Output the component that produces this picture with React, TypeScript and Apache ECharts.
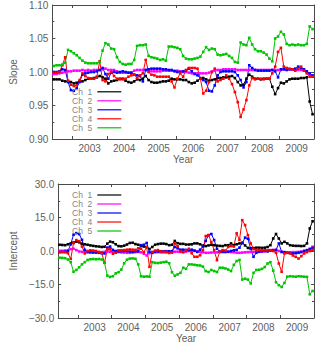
import React, { useEffect, useRef } from 'react';
import * as echarts from 'echarts';

// ---------- data ----------
const START_YEAR = 2002.458; // first monthly sample
const X_MIN = 2002.42;
const X_MAX = 2010.0;
const CHANNELS = ['Ch  1', 'Ch  2', 'Ch  3', 'Ch  4', 'Ch  5'];
const COLORS = ['#000000', '#ff00ff', '#0000ff', '#ff0000', '#00c400'];
const YEAR_TICKS = [2003, 2004, 2005, 2006, 2007, 2008, 2009];
const YEAR_LABEL_POS = [2003.5, 2004.5, 2005.5, 2006.5, 2007.5, 2008.5, 2009.5];

const slopeCh1 = [
  0.989, 0.989, 0.989, 0.987, 0.986, 0.986, 0.985, 0.983, 0.984, 0.986,
  0.986, 0.988, 0.990, 0.990, 0.991, 0.992, 0.994, 0.992, 0.990, 0.983,
  0.986, 0.987, 0.988, 0.990, 0.990, 0.987, 0.985, 0.984, 0.986, 0.989,
  0.988, 0.990, 0.994, 0.988, 0.985, 0.984, 0.984, 0.985, 0.986, 0.986,
  0.987, 0.990, 0.989, 0.989, 0.989, 0.988, 0.988, 0.985, 0.983, 0.984,
  0.987, 0.990, 0.991, 0.989, 0.987, 0.988, 0.989, 0.991, 0.991, 0.992,
  0.992, 0.993, 0.994, 0.991, 0.985, 0.980, 0.981, 0.990, 0.996, 0.993,
  0.990, 0.990, 0.989, 0.990, 0.990, 0.990, 0.978, 0.967, 0.976, 0.984,
  0.983, 0.986, 0.989, 0.990, 0.990, 0.990, 0.991, 0.991, 0.992, 0.956,
  0.937,
];
const slopeCh2 = [
  0.997, 0.997, 0.998, 0.999, 1.000, 1.001, 1.001, 1.002, 1.002, 1.002,
  1.003, 1.002, 1.003, 1.002, 1.003, 1.003, 1.003, 1.004, 1.005, 1.003,
  1.003, 1.003, 1.001, 0.999, 0.999, 0.999, 0.999, 0.999, 1.002, 1.003,
  1.003, 1.003, 1.003, 1.001, 1.001, 1.001, 1.001, 1.001, 1.002, 1.002,
  1.002, 1.002, 1.002, 1.002, 1.001, 1.000, 1.000, 0.999, 0.998, 0.998,
  0.998, 0.998, 0.998, 0.998, 0.999, 1.001, 1.002, 1.003, 1.003, 1.004,
  1.004, 1.004, 1.004, 1.004, 1.003, 1.003, 1.003, 1.003, 1.003, 1.003,
  1.003, 1.003, 1.003, 1.003, 1.003, 1.003, 1.003, 1.003, 1.003, 1.003,
  1.004, 1.004, 1.004, 1.004, 1.003, 1.003, 1.003, 1.002, 1.000, 0.996,
  0.993,
];
const slopeCh3 = [
  1.000, 1.000, 1.001, 1.004, 1.003, 0.985, 0.973, 0.972, 0.976, 0.985,
  0.996, 0.998, 0.999, 1.000, 1.000, 1.001, 1.003, 1.006, 0.997, 0.990,
  0.999, 1.000, 0.999, 1.000, 1.001, 1.000, 0.999, 0.999, 0.996, 0.995,
  0.994, 0.986, 1.003, 1.004, 1.005, 1.005, 1.005, 1.005, 1.004, 1.004,
  1.003, 1.003, 1.001, 1.000, 1.000, 1.001, 1.002, 1.005, 1.001, 0.997,
  0.995, 0.991, 0.988, 0.985, 0.972, 0.971, 0.980, 0.995, 1.000, 1.001,
  1.001, 1.001, 1.001, 1.000, 0.995, 0.988, 0.977, 0.985, 1.010, 1.006,
  1.003, 1.002, 1.002, 1.002, 1.002, 1.002, 1.003, 1.001, 0.992, 1.004,
  1.004, 1.003, 1.004, 1.004, 1.005, 1.008, 1.006, 1.004, 1.001, 0.998,
  0.995,
];
const slopeCh4 = [
  0.999, 0.999, 1.000, 1.010, 1.022, 0.987, 0.981, 0.979, 0.980, 0.988,
  0.998, 0.994, 0.991, 0.990, 0.990, 0.993, 1.016, 0.988, 0.986, 0.997,
  1.000, 0.994, 0.990, 0.989, 0.989, 0.990, 0.993, 0.995, 0.996, 0.991,
  0.995, 0.998, 1.018, 1.000, 0.996, 0.995, 0.993, 0.993, 0.993, 0.993,
  0.993, 0.986, 0.977, 0.990, 0.998, 0.993, 1.003, 1.006, 1.006, 1.006,
  1.005, 0.990, 0.968, 0.972, 0.985, 1.000, 1.005, 0.986, 0.988, 0.990,
  0.995, 0.990, 0.982, 0.970, 0.955, 0.933, 0.944, 0.958, 0.980, 0.991,
  0.989, 0.990, 0.990, 0.989, 0.990, 0.990, 0.998, 1.008, 1.030, 1.036,
  1.008, 1.006, 1.005, 1.004, 1.002, 1.005, 1.008, 1.002, 0.998, 0.993,
  0.993,
];
const slopeCh5 = [
  1.009, 1.010, 1.010, 1.011, 1.014, 1.033, 1.031, 1.028, 1.025, 1.021,
  1.017, 1.014, 1.013, 1.013, 1.013, 1.013, 1.015, 1.032, 1.043, 1.041,
  1.035, 1.034, 1.022, 1.015, 1.012, 1.011, 1.012, 1.012, 1.018, 1.039,
  1.040, 1.040, 1.041, 1.024, 1.022, 1.021, 1.020, 1.018, 1.019, 1.017,
  1.038, 1.038, 1.037, 1.036, 1.034, 1.024, 1.020, 1.019, 1.019, 1.020,
  1.021, 1.023, 1.030, 1.037, 1.033, 1.035, 1.034, 1.026, 1.025, 1.026,
  1.027, 1.024, 1.021, 1.015, 1.014, 1.044, 1.041, 1.040, 1.051, 1.041,
  1.034, 1.031, 1.031, 1.029, 1.026, 1.020, 1.016, 1.050, 1.053, 1.060,
  1.056, 1.042, 1.040, 1.041, 1.040, 1.041, 1.040, 1.040, 1.042, 1.068,
  1.064,
];

const interceptCh1 = [
  2.8, 2.7, 2.6, 3.0, 3.4, 3.8, 4.2, 3.9, 3.3, 3.0,
  2.8, 2.5, 2.3, 2.1, 2.0, 1.8, 1.9, 3.3, 4.2, 3.9,
  3.0, 2.2, 2.1, 2.4, 2.9, 3.6, 3.7, 3.1, 2.8, 2.3,
  2.0, 1.8, 0.9, 1.8, 2.8, 3.1, 3.3, 3.3, 3.1, 2.6,
  2.8, 4.5, 3.5, 3.2, 3.2, 2.9, 2.9, 3.0, 3.4, 3.4,
  3.0, 2.4, 2.2, 2.5, 2.8, 2.6, 2.4, 2.3, 2.2, 2.6,
  2.6, 3.4, 2.6, 3.0, 3.4, 3.7, 2.5, 1.4, 1.2, 1.3,
  1.5, 1.5, 1.4, 1.5, 1.8, 2.6, 5.6, 7.6, 5.6, 3.4,
  4.1, 3.4, 2.6, 2.4, 2.3, 2.3, 2.2, 2.3, 3.4, 10.1,
  13.3,
];
const interceptCh2 = [
  0.1, 0.1, 0.2, 0.3, 0.8, 1.0, 0.4, -0.2, -0.4, -0.5,
  -0.6, -0.7, -0.7, -0.6, -0.6, -0.5, -0.4, -0.3, -0.4, -0.3,
  -0.4, -0.5, -0.6, -0.7, -0.8, -0.8, -0.7, -0.5, -0.4, -0.6,
  -1.2, -2.0, -1.0, -0.6, -0.5, -0.5, -0.6, -0.6, -0.5, -0.5,
  -0.5, -0.3, -0.3, -0.4, -0.5, -0.3, 0.0, 0.1, 0.0, -0.2,
  -0.4, -0.6, -0.8, -0.8, -0.7, -0.6, -0.6, -0.5, -0.5, -0.4,
  -0.4, -0.5, -0.6, -0.8, -0.8, -0.7, -0.6, -0.5, -0.4, -0.4,
  -0.4, -0.4, -0.3, -0.1, 0.2, 0.4, 0.5, 0.4, 0.0, -0.4,
  -0.6, -0.6, -0.6, -0.5, -0.5, -0.4, -0.3, 0.0, 0.3, 1.0,
  1.9,
];
const interceptCh3 = [
  -0.5, -0.4, -0.3, 0.0, 3.0, 7.3, 8.0, 7.6, 5.0, 0.5,
  -0.4, -0.5, -0.6, -0.7, -0.8, -1.0, -1.1, 1.5, 2.0, 0.5,
  0.0, -0.2, -0.1, 0.0, 0.0, -0.2, -0.3, -0.2, -0.1, 2.6,
  2.8, 3.6, -0.4, -0.8, -0.4, -0.2, -0.1, -0.1, -0.1, -0.1,
  -0.1, 1.8, 1.2, 0.6, 0.6, 0.5, 0.4, 0.6, 0.2, -0.4,
  0.6, 2.0, 4.5, 7.1, 7.6, 4.9, 1.0, -0.2, -0.3, -0.4,
  -0.3, 0.0, 0.3, 0.5, 1.5, 3.5, 6.0, 5.5, 1.0, -2.6,
  -0.8, -0.3, -0.1, 0.0, -0.2, 0.1, 0.3, 0.5, 3.4, -0.4,
  -0.5, -0.8, -0.9, -1.1, -1.0, -0.8, -0.5, 0.0, 0.4, 0.8,
  1.4,
];
const interceptCh4 = [
  -0.5, -0.5, -0.6, -1.0, -3.5, 3.5, 4.9, 4.4, 2.0, -1.1,
  0.0, 0.3, 0.2, 0.0, -0.4, -0.8, -5.3, 0.7, 0.8, -1.2,
  -0.8, 0.3, 0.3, 0.4, 0.6, 0.7, 0.6, 0.5, 1.2, 1.0,
  -0.5, 1.7, -7.1, -0.4, 0.2, 0.4, -0.2, -0.3, -0.5, -0.9,
  -0.7, 3.4, 2.1, -0.2, -0.5, 0.3, 1.0, -1.0, -2.6, -2.6,
  -1.9, 0.4, 6.7, 7.1, 4.0, 0.4, -4.1, -0.3, 0.4, 0.2,
  1.8, 2.2, 2.0, 7.9, 5.0, 13.8, 11.6, 7.1, 3.4, 0.9,
  0.5, 0.5, 0.4, 0.3, 0.3, 0.2, 0.0, -0.8, -5.6, -9.3,
  -1.1, -0.8, -1.1, -2.0, -2.6, -3.4, -2.3, -1.1, -0.5, 0.0,
  0.5,
];
const interceptCh5 = [
  -3.0, -3.1, -3.2, -3.8, -5.0, -9.3, -8.5, -7.3, -6.0, -5.0,
  -4.0, -3.7, -3.6, -3.7, -3.6, -3.8, -5.2, -11.0, -11.6, -11.3,
  -10.0, -9.5, -8.3, -5.5, -3.9, -3.4, -3.3, -3.5, -6.0, -11.3,
  -11.5, -11.4, -11.5, -5.0, -5.3, -5.4, -5.2, -5.0, -4.8, -5.5,
  -9.5, -11.1, -10.5, -9.8, -7.5, -8.0, -6.0, -6.0, -6.2, -6.4,
  -6.5, -7.0, -9.0, -9.4, -8.5, -9.0, -9.4, -7.5, -7.5, -7.8,
  -8.3, -9.0, -6.2, -4.5, -4.0, -12.8, -12.4, -12.8, -14.5, -9.8,
  -8.5, -8.4, -8.0, -7.2, -5.6, -5.0, -8.8, -14.0, -15.3, -16.1,
  -14.3, -11.5, -11.3, -11.4, -11.5, -11.3, -11.4, -11.5, -11.6, -19.4,
  -17.9,
];

const SLOPE = [slopeCh1, slopeCh2, slopeCh3, slopeCh4, slopeCh5];
const INTERCEPT = [interceptCh1, interceptCh2, interceptCh3, interceptCh4, interceptCh5];

// ---------- styling ----------
const FONT = 'Liberation Sans, Arial, sans-serif';
const AXIS_COLOR = '#4a4a4a';
const TEXT_COLOR = '#606060';
const LEGEND_TEXT = '#858585';

function xAxes(gridIndex: number) {
  const base = {
    type: 'value' as const,
    gridIndex,
    min: X_MIN,
    max: X_MAX,
    splitLine: { show: false },
    axisLine: { show: true, onZero: false, lineStyle: { color: AXIS_COLOR, width: 1 } },
    axisTick: { show: true, inside: true, length: 3, customValues: YEAR_TICKS, lineStyle: { color: AXIS_COLOR } },
  };
  return [
    {
      ...base,
      position: 'bottom',
      axisLabel: {
        show: true,
        customValues: YEAR_LABEL_POS,
        formatter: (v: number) => String(Math.floor(v)),
        margin: 4,
        color: TEXT_COLOR,
        fontSize: 10,
        fontFamily: FONT,
      },
      name: 'Year',
      nameLocation: 'middle',
      nameGap: 15,
      nameTextStyle: { color: TEXT_COLOR, fontSize: 10, fontFamily: FONT },
    },
    { ...base, position: 'top', axisLabel: { show: false } },
  ];
}

function yAxes(gridIndex: number, min: number, max: number, interval: number, digits: number, name: string) {
  const base = {
    type: 'value' as const,
    gridIndex,
    min,
    max,
    interval,
    splitLine: { show: false },
    axisLine: { show: true, onZero: false, lineStyle: { color: AXIS_COLOR, width: 1 } },
    axisTick: { show: true, inside: true, length: 3, lineStyle: { color: AXIS_COLOR } },
    minorTick: { show: true, splitNumber: 2, length: 2, lineStyle: { color: AXIS_COLOR } },
  };
  return [
    {
      ...base,
      position: 'left',
      axisLabel: {
        show: true,
        margin: 4,
        color: TEXT_COLOR,
        fontSize: 10,
        fontFamily: FONT,
        formatter: (v: number) => v.toFixed(digits).replace('-', '\u2212'),
      },
      name,
      nameLocation: 'middle',
      nameGap: 30,
      nameRotate: 90,
      nameTextStyle: { color: TEXT_COLOR, fontSize: 10, fontFamily: FONT },
    },
    { ...base, position: 'right', axisLabel: { show: false } },
  ];
}

function panelSeries(values: number[][], panel: number) {
  return values.map((arr, k) => ({
    type: 'line' as const,
    name: CHANNELS[k],
    xAxisIndex: panel * 2,
    yAxisIndex: panel * 2,
    data: arr.map((v, i) => [START_YEAR + i / 12, v]),
    symbol: 'rect',
    symbolSize: 2.6,
    showSymbol: true,
    lineStyle: { width: 1, color: COLORS[k] },
    itemStyle: { color: COLORS[k] },
    emphasis: { disabled: true },
  }));
}

function legend(top: number, rowHeight: number) {
  return {
    show: true,
    orient: 'vertical' as const,
    left: 72,
    top,
    padding: 0,
    itemGap: 0,
    align: 'right' as const,
    icon: 'rect',
    itemWidth: 24,
    itemHeight: 1.2,
    selectedMode: false,
    formatter: (n: string) => n.replace(/ /g, '\u00a0'),
    itemStyle: { borderWidth: 0 },
    data: CHANNELS.map((n, k) => ({ name: n, itemStyle: { color: COLORS[k], borderWidth: 0 } })),
    textStyle: { color: LEGEND_TEXT, fontSize: 8.5, fontFamily: FONT, lineHeight: rowHeight },
  };
}

export default function App() {
  const ref = useRef<HTMLDivElement>(null);
  useEffect(() => {
    document.body.style.margin = '0';
    if (!ref.current) return;
    const chart = echarts.init(ref.current, undefined, { renderer: 'svg' });
    chart.setOption({
      animation: false,
      backgroundColor: '#ffffff',
      grid: [
        { left: 47, right: 6, top: 5, height: 134 },
        { left: 47, right: 6, top: 184, height: 134 },
      ],
      xAxis: [...xAxes(0), ...xAxes(1)],
      yAxis: [
        ...yAxes(0, 0.9, 1.1, 0.05, 2, 'Slope'),
        ...yAxes(1, -30, 30, 15, 1, 'Intercept'),
      ],
      legend: [legend(87.3, 8.75), legend(190.5, 9)],
      series: [...panelSeries(SLOPE, 0), ...panelSeries(INTERCEPT, 1)],
    });
    return () => chart.dispose();
  }, []);
  return <div ref={ref} style={{ width: 320, height: 346 }} />;
}
